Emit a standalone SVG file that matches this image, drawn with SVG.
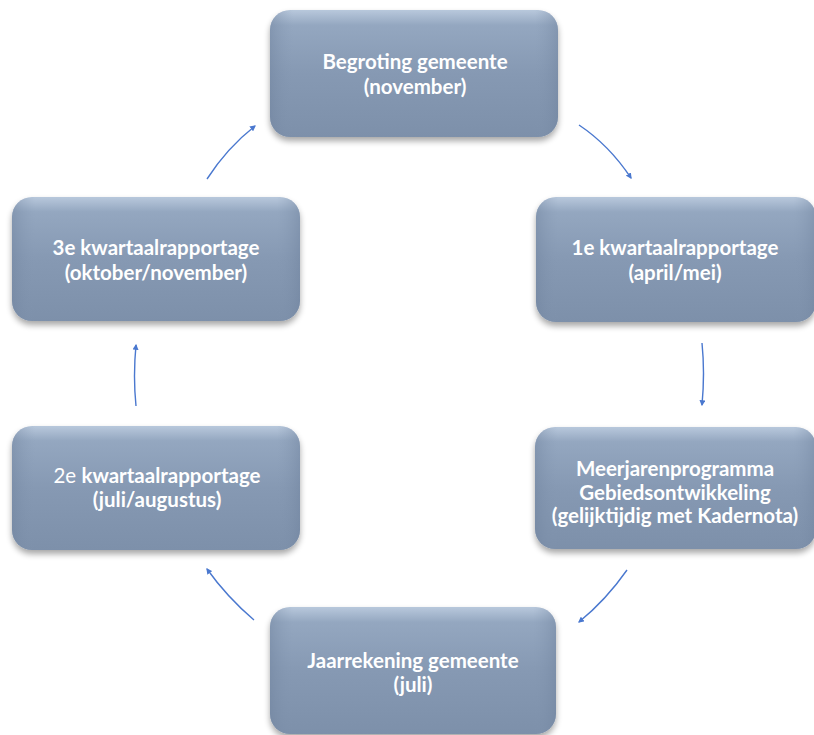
<svg xmlns="http://www.w3.org/2000/svg" width="814" height="735" viewBox="0 0 814 735">
<defs>
<linearGradient id="g" x1="0" y1="0" x2="0" y2="1">
<stop offset="0" stop-color="#b8c8dc"/>
<stop offset="0.12" stop-color="#94a7c0"/>
<stop offset="0.5" stop-color="#8699b3"/>
<stop offset="1" stop-color="#7d90aa"/>
</linearGradient>
<linearGradient id="gs" x1="0" y1="0" x2="1" y2="0">
<stop offset="0" stop-color="#6f829d" stop-opacity="0.45"/>
<stop offset="0.08" stop-color="#8497b1" stop-opacity="0"/>
<stop offset="0.92" stop-color="#8497b1" stop-opacity="0"/>
<stop offset="1" stop-color="#6f829d" stop-opacity="0.45"/>
</linearGradient>
<filter id="sh" x="-10%" y="-10%" width="120%" height="130%">
<feGaussianBlur in="SourceAlpha" stdDeviation="3"/>
<feOffset dx="0" dy="4" result="b"/>
<feComponentTransfer><feFuncA type="linear" slope="0.35"/></feComponentTransfer>
<feMerge><feMergeNode/><feMergeNode in="SourceGraphic"/></feMerge>
</filter>
<marker id="ah" viewBox="0 0 10 10" refX="8" refY="5" markerWidth="6" markerHeight="6" orient="auto" markerUnits="userSpaceOnUse">
<path d="M0,0 L10,5 L0,10 z" fill="#4a78cf"/>
</marker>
</defs>
<style>
.box{fill:url(#g);filter:url(#sh)}
.edge{fill:url(#gs)}
.t{font-family:Lato,"Open Sans","Liberation Sans",sans-serif;font-size:20.5px;font-weight:bold;fill:#ffffff;text-anchor:middle}
.n{font-weight:normal}
.c{fill:none;stroke:#4a78cf;stroke-width:1.4;marker-end:url(#ah)}
</style>
<rect width="814" height="735" fill="#ffffff"/>
<g id="n1">
<rect class="box" x="270" y="10" width="288" height="127" rx="20"/>
<rect class="edge" x="270" y="10" width="288" height="127" rx="20"/>
<text class="t" x="415" y="69">Begroting gemeente</text>
<text class="t" x="415" y="94">(november)</text>
</g>
<g id="n2">
<rect class="box" x="536" y="197" width="280" height="125" rx="20"/>
<rect class="edge" x="536" y="197" width="280" height="125" rx="20"/>
<text class="t" x="675" y="255">1e kwartaalrapportage</text>
<text class="t" x="675" y="280">(april/mei)</text>
</g>
<g id="n3">
<rect class="box" x="535" y="427" width="281" height="122" rx="20"/>
<rect class="edge" x="535" y="427" width="281" height="122" rx="20"/>
<text class="t" x="675" y="476">Meerjarenprogramma</text>
<text class="t" x="675" y="500">Gebiedsontwikkeling</text>
<text class="t" x="675" y="523">(gelijktijdig met Kadernota)</text>
</g>
<g id="n4">
<rect class="box" x="270" y="607" width="286" height="127" rx="20"/>
<rect class="edge" x="270" y="607" width="286" height="127" rx="20"/>
<text class="t" x="413" y="668">Jaarrekening gemeente</text>
<text class="t" x="413" y="692">(juli)</text>
</g>
<g id="n5">
<rect class="box" x="12" y="426" width="288" height="124" rx="20"/>
<rect class="edge" x="12" y="426" width="288" height="124" rx="20"/>
<text class="t" x="157" y="483"><tspan class="n">2e </tspan>kwartaalrapportage</text>
<text class="t" x="157" y="507">(juli/augustus)</text>
</g>
<g id="n6">
<rect class="box" x="12" y="197" width="288" height="124" rx="20"/>
<rect class="edge" x="12" y="197" width="288" height="124" rx="20"/>
<text class="t" x="156" y="255">3e kwartaalrapportage</text>
<text class="t" x="156" y="280">(oktober/november)</text>
</g>
<g id="connectors">
<path class="c" d="M579,125 Q609,145 631,178"/>
<path class="c" d="M702,343 Q705,373 702,405"/>
<path class="c" d="M627,570 Q606,600 579,622"/>
<path class="c" d="M254,620 Q227,597 207,569"/>
<path class="c" d="M136,406 Q133,376 136,345"/>
<path class="c" d="M207,179 Q227,148 255,126"/>
</g>
</svg>
